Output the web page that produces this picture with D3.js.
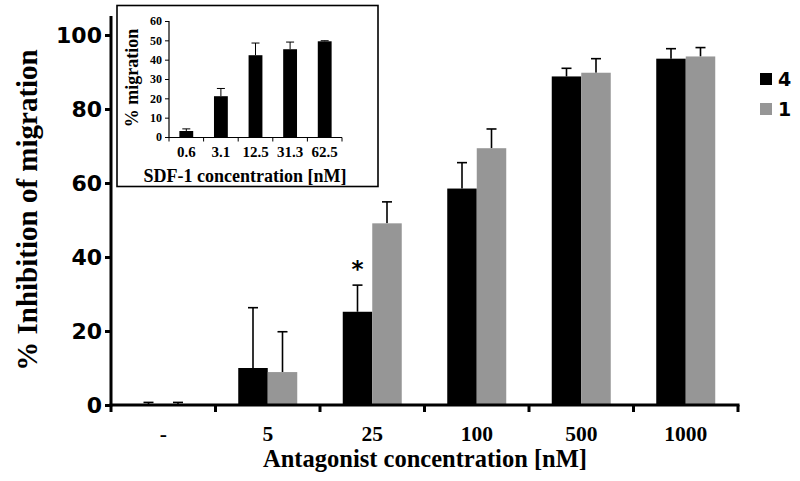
<!DOCTYPE html>
<html>
<head>
<meta charset="utf-8">
<script src="https://cdn.jsdelivr.net/npm/d3@7"></script>
<style>
  html, body { margin: 0; padding: 0; background: #fff; }
  svg { display: block; }
</style>
</head>
<body>
<svg id="chart" width="800" height="481"></svg>
<script>
// ---- Main chart data ----
const categories = ["-", "5", "25", "100", "500", "1000"];
const seriesNames = ["4", "1"];
const values4 = [0, 10.0, 25.2, 58.5, 88.8, 93.6];
const errors4 = [0.7, 16.3, 7.2, 7.0, 2.2, 2.7];
const values1 = [0, 8.9, 49.1, 69.4, 89.8, 94.2];
const errors1 = [0.7, 10.9, 5.8, 5.2, 3.8, 2.4];
const yTicks = [0, 20, 40, 60, 80, 100];
const significant = [{ cat: "25", series: "4", label: "*" }];

// ---- Inset data ----
const insetCategories = ["0.6", "3.1", "12.5", "31.3", "62.5"];
const insetValues = [3.1, 21.1, 42.3, 45.4, 49.5];
const insetErrors = [1.1, 4.0, 6.3, 3.7, 0.3];
const insetYTicks = [0, 10, 20, 30, 40, 50, 60];

const colors = { "4": "#000000", "1": "#969696" };
const serif = "'Liberation Serif', 'Times New Roman', serif";
const sans = "'DejaVu Sans', Verdana, sans-serif";

const svg = d3.select("#chart");

// ---------- Main chart ----------
const x = d3.scaleBand().domain(categories).range([111, 738]).padding(0);
const bw = x.bandwidth();
const xSub = d3.scaleBand().domain(seriesNames).range([bw / 2 - 29.5, bw / 2 + 29.5]).padding(0);
const y = d3.scaleLinear().domain([0, 100]).range([405, 35]);

const rows = [];
categories.forEach((c, i) => {
  rows.push({ cat: c, s: "4", v: values4[i], e: errors4[i] });
  rows.push({ cat: c, s: "1", v: values1[i], e: errors1[i] });
});

const g = svg.append("g");

// error bars (drawn first, bars on top hide the lower part)
const eb = g.append("g").attr("stroke", "#000").attr("stroke-width", 1.6);
rows.forEach(d => {
  const cx = x(d.cat) + xSub(d.s) + xSub.bandwidth() / 2;
  eb.append("line").attr("x1", cx).attr("x2", cx).attr("y1", y(d.v)).attr("y2", y(d.v + d.e));
  eb.append("line").attr("x1", cx - 5).attr("x2", cx + 5).attr("y1", y(d.v + d.e)).attr("y2", y(d.v + d.e));
});

g.append("g").selectAll("rect").data(rows).join("rect")
  .attr("x", d => x(d.cat) + xSub(d.s))
  .attr("width", xSub.bandwidth())
  .attr("y", d => y(d.v))
  .attr("height", d => y(0) - y(d.v))
  .attr("fill", d => colors[d.s]);

// significance marker
significant.forEach(m => {
  const i = categories.indexOf(m.cat);
  const v = m.series === "4" ? values4[i] + errors4[i] : values1[i] + errors1[i];
  g.append("text")
    .attr("x", x(m.cat) + xSub(m.series) + xSub.bandwidth() / 2)
    .attr("y", y(v) - 8)
    .attr("text-anchor", "middle")
    .attr("font-family", sans).attr("font-weight", "bold").attr("font-size", 23)
    .text(m.label);
});

// Y axis
const yAxis = d3.axisLeft(y).tickValues(yTicks).tickSize(6).tickPadding(3).tickFormat(d3.format("d"));
const ya = svg.append("g").attr("transform", "translate(111,0)").call(yAxis);
ya.select(".domain").remove();
ya.append("line").attr("x1", 0).attr("x2", 0).attr("y1", 16).attr("y2", 406.5).attr("stroke", "#000").attr("stroke-width", 3);
ya.selectAll(".tick line").attr("stroke", "#000").attr("stroke-width", 3);
ya.selectAll(".tick text").attr("font-family", sans).attr("font-weight", "bold").attr("font-size", 22).attr("fill", "#000");

// X axis
const xa = svg.append("g").attr("transform", "translate(0,405)");
xa.append("line").attr("x1", 109.5).attr("x2", 739.5).attr("y1", 0).attr("y2", 0).attr("stroke", "#000").attr("stroke-width", 3);
const boundaries = categories.map(c => x(c)).concat([x(categories[categories.length - 1]) + bw]);
xa.selectAll("line.tk").data(boundaries).join("line").attr("class", "tk")
  .attr("x1", d => d).attr("x2", d => d).attr("y1", 0).attr("y2", 7)
  .attr("stroke", "#000").attr("stroke-width", 3);
xa.selectAll("text.lbl").data(categories).join("text").attr("class", "lbl")
  .attr("x", d => x(d) + bw / 2).attr("y", 35.5)
  .attr("text-anchor", "middle")
  .attr("font-family", serif).attr("font-weight", "bold").attr("font-size", 21.5)
  .text(d => d);

// axis titles
svg.append("text")
  .attr("x", 425).attr("y", 467)
  .attr("text-anchor", "middle")
  .attr("font-family", serif).attr("font-weight", "bold").attr("font-size", 24.5)
  .text("Antagonist concentration [nM]");
svg.append("text")
  .attr("transform", "translate(37,210) rotate(-90)")
  .attr("text-anchor", "middle")
  .attr("font-family", serif).attr("font-weight", "bold").attr("font-size", 29)
  .text("% Inhibition of migration");

// legend
const lg = svg.append("g");
seriesNames.forEach((s, i) => {
  lg.append("rect").attr("x", 760).attr("y", 73 + i * 30).attr("width", 12).attr("height", 12).attr("fill", colors[s]);
  lg.append("text").attr("x", 778).attr("y", 86 + i * 30)
    .attr("font-family", sans).attr("font-weight", "bold").attr("font-size", 19)
    .text(s);
});

// ---------- Inset ----------
const ins = svg.append("g");
ins.append("rect").attr("x", 117).attr("y", 5.5).attr("width", 261).attr("height", 181)
  .attr("fill", "#fff").attr("stroke", "#000").attr("stroke-width", 1.6);

const ix = d3.scaleBand().domain(insetCategories).range([169, 342]).paddingInner(0.6).paddingOuter(0.3);
const iy = d3.scaleLinear().domain([0, 60]).range([137, 21]);

const ieb = ins.append("g").attr("stroke", "#000").attr("stroke-width", 1);
insetCategories.forEach((c, i) => {
  const cx = ix(c) + ix.bandwidth() / 2;
  const top = iy(insetValues[i] + insetErrors[i]);
  ieb.append("line").attr("x1", cx).attr("x2", cx).attr("y1", iy(insetValues[i])).attr("y2", top);
  ieb.append("line").attr("x1", cx - 4).attr("x2", cx + 4).attr("y1", top).attr("y2", top);
});
ins.append("g").selectAll("rect").data(insetCategories).join("rect")
  .attr("x", d => ix(d)).attr("width", ix.bandwidth())
  .attr("y", (d, i) => iy(insetValues[i]))
  .attr("height", (d, i) => iy(0) - iy(insetValues[i]))
  .attr("fill", "#000");

const iya = ins.append("g").attr("transform", "translate(169,0)")
  .call(d3.axisLeft(iy).tickValues(insetYTicks).tickSize(4).tickPadding(3).tickFormat(d3.format("d")));
iya.select(".domain").attr("stroke", "#000").attr("stroke-width", 1.2).attr("d", "M-4,21.5H0V137.5");
iya.selectAll(".tick line").attr("stroke", "#000");
iya.selectAll(".tick text").attr("font-family", serif).attr("font-weight", "bold").attr("font-size", 12).attr("fill", "#000");

const ixa = ins.append("g").attr("transform", "translate(0,137.5)");
ixa.append("line").attr("x1", 169).attr("x2", 342).attr("stroke", "#000").attr("stroke-width", 1.2);
const ib = insetCategories.map(c => ix(c) - ix.step() * 0.3).concat([342]);
ixa.selectAll("line.tk").data(ib).join("line").attr("class", "tk")
  .attr("x1", d => d).attr("x2", d => d).attr("y1", 0).attr("y2", 4).attr("stroke", "#000").attr("stroke-width", 1);
ixa.selectAll("text").data(insetCategories).join("text")
  .attr("x", d => ix(d) + ix.bandwidth() / 2).attr("y", 19.5)
  .attr("text-anchor", "middle")
  .attr("font-family", serif).attr("font-weight", "bold").attr("font-size", 15)
  .text(d => d);

ins.append("text").attr("x", 245).attr("y", 182)
  .attr("text-anchor", "middle")
  .attr("font-family", serif).attr("font-weight", "bold").attr("font-size", 18)
  .text("SDF-1 concentration [nM]");
ins.append("text").attr("transform", "translate(138,78) rotate(-90)")
  .attr("text-anchor", "middle")
  .attr("font-family", serif).attr("font-weight", "bold").attr("font-size", 18)
  .text("% migration");
</script>
</body>
</html>
